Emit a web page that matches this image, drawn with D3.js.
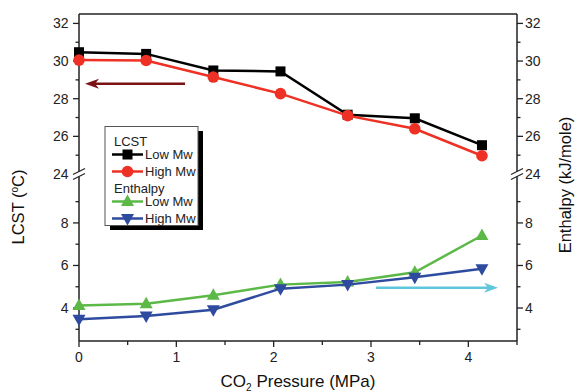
<!DOCTYPE html>
<html>
<head>
<meta charset="utf-8">
<script src="https://cdn.jsdelivr.net/npm/d3@7"></script>
<style>
  body { margin: 0; background: #fff; }
  text { font-family: "Liberation Sans", Arial, sans-serif; }
</style>
</head>
<body>
<div id="chart"></div>
<script>
// data
const pressure = [0, 0.69, 1.38, 2.07, 2.76, 3.45, 4.14];
const lcstLow = [30.47, 30.38, 29.5, 29.45, 27.15, 26.96, 25.53];
const lcstHigh = [30.05, 30.03, 29.15, 28.27, 27.1, 26.4, 24.97];
const enthLow = [4.12, 4.2, 4.6, 5.1, 5.22, 5.68, 7.41];
const enthHigh = [3.47, 3.62, 3.92, 4.91, 5.1, 5.45, 5.85];
const xTicks = [0, 1, 2, 3, 4];
const yTicksUpper = [24, 26, 28, 30, 32];
const yTicksLower = [4, 6, 8];

const W = 577, H = 392;
const plotLeft = 79, plotRight = 517, plotTop = 14, plotBottom = 341, breakY = 174;

const svg = d3.select('#chart').append('svg')
    .attr('width', W)
    .attr('height', H);

const x = d3.scaleLinear().domain([0, 4.5]).range([plotLeft, plotRight]);
const yUp = d3.scaleLinear().domain([24, 32.5]).range([breakY, plotTop]);
const yLo = d3.scaleLinear().domain([2.45, 10.3]).range([plotBottom, breakY]);
const y = v => v >= 20 ? yUp(v) : yLo(v);

const axisCol = '#222';

// frame: top line + bottom axis
svg.append('line').attr('x1', plotLeft).attr('x2', plotRight).attr('y1', plotTop).attr('y2', plotTop)
    .attr('stroke', axisCol).attr('stroke-width', 1.5);
svg.append('line').attr('x1', plotLeft).attr('x2', plotRight).attr('y1', plotBottom).attr('y2', plotBottom)
    .attr('stroke', axisCol).attr('stroke-width', 1.5);
[plotLeft, plotRight].forEach(xx => {
    svg.append('line').attr('x1', xx).attr('x2', xx).attr('y1', plotTop).attr('y2', plotBottom)
        .attr('stroke', axisCol).attr('stroke-width', 1.5);
});

// x ticks
d3.range(0, 4.51, 0.5).forEach(v => {
    const major = Number.isInteger(v);
    svg.append('line').attr('x1', x(v)).attr('x2', x(v))
        .attr('y1', plotBottom).attr('y2', plotBottom + (major ? 6 : 4))
        .attr('stroke', axisCol).attr('stroke-width', 1.3);
});
xTicks.forEach(v => {
    svg.append('text').attr('x', x(v)).attr('y', plotBottom + 21)
        .attr('text-anchor', 'middle').attr('font-size', 14).attr('fill', '#222')
        .text(v);
});

// y ticks both sides
const minorUp = [25, 27, 29, 31];
const minorLo = [3, 5, 7, 9];
[[plotLeft, -1, 'end', 10.5], [plotRight, 1, 'start', 8]].forEach(([xx, dir, anchor, gap]) => {
    yTicksUpper.concat(yTicksLower).forEach(v => {
        if (v !== 24) {
            svg.append('line').attr('x1', xx).attr('x2', xx + dir * 6)
                .attr('y1', y(v)).attr('y2', y(v))
                .attr('stroke', axisCol).attr('stroke-width', 1.3);
        }
        svg.append('text').attr('x', xx + dir * gap).attr('y', y(v) + 5)
            .attr('text-anchor', anchor).attr('font-size', 14).attr('fill', '#222')
            .text(v);
    });
    minorUp.concat(minorLo).forEach(v => {
        svg.append('line').attr('x1', xx).attr('x2', xx + dir * 3.5)
            .attr('y1', y(v)).attr('y2', y(v))
            .attr('stroke', axisCol).attr('stroke-width', 1.3);
    });
    // axis break
    svg.append('rect').attr('x', xx - 2).attr('y', breakY - 2.5).attr('width', 4).attr('height', 5)
        .attr('fill', '#fff');
    [-2.5, 2.5].forEach(off => {
        svg.append('line')
            .attr('x1', xx - 6).attr('y1', breakY + off + 3)
            .attr('x2', xx + 6).attr('y2', breakY + off - 3)
            .attr('stroke', axisCol).attr('stroke-width', 1.2);
    });
});

// axis titles
const lt = svg.append('text').attr('transform', `translate(24,207) rotate(-90)`)
    .attr('text-anchor', 'middle').attr('font-size', 16.5).attr('fill', '#111');
lt.append('tspan').text('LCST (');
lt.append('tspan').attr('font-size', 10).attr('dy', -6).text('o');
lt.append('tspan').attr('dy', 6).text('C)');

svg.append('text').attr('transform', `translate(571,185) rotate(-90)`)
    .attr('text-anchor', 'middle').attr('font-size', 16.5).attr('fill', '#111')
    .text('Enthalpy (kJ/mole)');

const xt = svg.append('text').attr('x', 298).attr('y', 387)
    .attr('text-anchor', 'middle').attr('font-size', 17).attr('fill', '#111');
xt.append('tspan').text('CO');
xt.append('tspan').attr('font-size', 10).attr('dy', 4).text('2');
xt.append('tspan').attr('dy', -4).text(' Pressure (MPa)');

// series
const series = [
    { vals: lcstLow, color: '#000000', shape: 'square' },
    { vals: lcstHigh, color: '#ee3124', shape: 'circle' },
    { vals: enthLow, color: '#5cb947', shape: 'up' },
    { vals: enthHigh, color: '#2f4b9f', shape: 'down' }
];

function marker(g, shape, cx, cy, color) {
    if (shape === 'square') {
        g.append('rect').attr('x', cx - 5).attr('y', cy - 5).attr('width', 10).attr('height', 10).attr('fill', color);
    } else if (shape === 'circle') {
        g.append('circle').attr('cx', cx).attr('cy', cy).attr('r', 5.8).attr('fill', color);
    } else if (shape === 'up') {
        g.append('path').attr('d', `M${cx},${cy - 7}L${cx + 6.5},${cy + 4.5}L${cx - 6.5},${cy + 4.5}Z`).attr('fill', color);
    } else {
        g.append('path').attr('d', `M${cx},${cy + 7}L${cx + 6.5},${cy - 4.5}L${cx - 6.5},${cy - 4.5}Z`).attr('fill', color);
    }
}

const line = d3.line().x(d => x(d[0])).y(d => y(d[1]));
series.forEach(s => {
    const pts = pressure.map((p, i) => [p, s.vals[i]]);
    svg.append('path').datum(pts).attr('d', line)
        .attr('fill', 'none').attr('stroke', s.color).attr('stroke-width', 2.5);
    const g = svg.append('g');
    pts.forEach(d => marker(g, s.shape, x(d[0]), y(d[1]), s.color));
});

// arrows
function arrow(x1, x2, yy, color) {
    svg.append('line').attr('x1', x1).attr('x2', x2 + (x2 > x1 ? -10 : 10)).attr('y1', yy).attr('y2', yy)
        .attr('stroke', color).attr('stroke-width', 2.5);
    const d = x2 > x1 ? -1 : 1;
    svg.append('path')
        .attr('d', `M${x2},${yy}L${x2 + d * 14},${yy - 5}L${x2 + d * 10},${yy}L${x2 + d * 14},${yy + 5}Z`)
        .attr('fill', color);
}
arrow(185, 85, y(28.8), '#7a1216');
arrow(376, 498, y(4.95), '#5fc6dc');

// legend
const lg = svg.append('g');
lg.append('rect').attr('x', 110).attr('y', 131).attr('width', 93).attr('height', 99).attr('fill', '#000');
lg.append('rect').attr('x', 105).attr('y', 126.5).attr('width', 93).attr('height', 99)
    .attr('fill', '#fff').attr('stroke', '#555').attr('stroke-width', 1);
const rows = [
    { label: 'LCST', y: 141 },
    { label: 'Low Mw', y: 154.5, s: series[0] },
    { label: 'High Mw', y: 171.5, s: series[1] },
    { label: 'Enthalpy', y: 188 },
    { label: 'Low Mw', y: 201.5, s: series[2] },
    { label: 'High Mw', y: 218.5, s: series[3] }
];
rows.forEach(r => {
    if (r.s) {
        lg.append('line').attr('x1', 112).attr('x2', 143).attr('y1', r.y).attr('y2', r.y)
            .attr('stroke', r.s.color).attr('stroke-width', 2.5);
        marker(lg, r.s.shape, 127.5, r.y, r.s.color);
        lg.append('text').attr('x', 145).attr('y', r.y + 4.5).attr('font-size', 13).attr('fill', '#222').text(r.label);
    } else {
        lg.append('text').attr('x', 114).attr('y', r.y + 4.5).attr('font-size', 13).attr('fill', '#222').text(r.label);
    }
});
</script>
</body>
</html>
